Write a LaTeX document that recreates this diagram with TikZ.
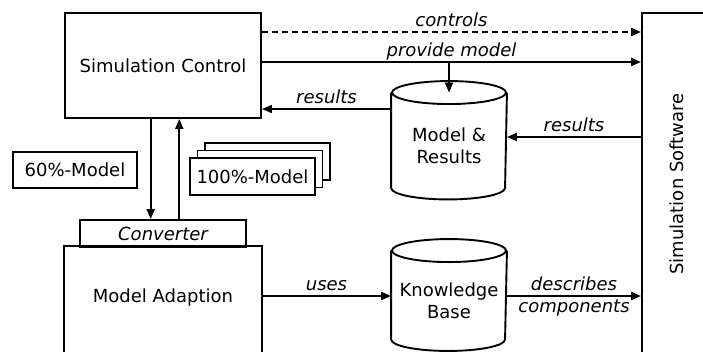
\documentclass[tikz,border=0pt]{standalone}
\usepackage{graphicx}
\usepackage{fontspec}
\setmainfont{DejaVu Sans}
\usetikzlibrary{arrows.meta,calc}
\begin{document}
\begin{tikzpicture}[x=1pt,y=-1pt,line width=1.9pt,
  font=\fontsize{18}{22}\selectfont,
  box/.style={draw,rectangle,inner sep=0pt,align=center},
  body/.style={rectangle,inner sep=0pt,align=center},
  arr/.style={-{Triangle[length=10pt,width=8pt]}},
  dashline/.style={dash pattern=on 6pt off 4pt},
  lab/.style={font=\fontsize{18}{22}\selectfont\itshape,anchor=base,inner sep=0pt}]
\clip (0,0) rectangle (703,351);
\fill[white] (0,0) rectangle (703,351);
% boxes
\node[box,minimum width=196pt,minimum height=105pt] (sc) at (163,65.5) {Simulation Control};
\node[box,minimum width=70pt,minimum height=342pt] (ss) at (677,184) {\rotatebox{90}{Simulation Software}};
\node[box,minimum width=124pt,minimum height=36pt] (m60) at (75,170) {60\%-Model};
\node[box,fill=white,minimum width=125pt,minimum height=37pt] (m100c) at (267.5,161.5) {};
\node[box,fill=white,minimum width=125pt,minimum height=37pt] (m100b) at (260,169) {};
\node[box,fill=white,minimum width=125pt,minimum height=37pt] (m100) at (252.5,176.5) {100\%-Model};
\node[box,minimum width=166pt,minimum height=27pt,font=\fontsize{18}{22}\selectfont\itshape] (conv) at (163,233.5) {Converter};
\node[body,minimum width=196pt,minimum height=102pt] (ma) at (163,298) {Model Adaption};
\draw ([yshift=-30pt]ma.south west) rectangle (ma.north east);
% cylinders
\node[body,minimum width=114pt,minimum height=105pt] (mr) at (449,146) {Model \&\\Results};
\draw (mr.north) ellipse[x radius=57pt,y radius=11.5pt];
\draw (mr.north west) -- ([yshift=11.5pt]mr.south west)
  arc[start angle=180,end angle=360,x radius=57pt,y radius=11.5pt] -- (mr.north east);
\node[body,minimum width=114pt,minimum height=98.5pt] (kb) at (449,300.75) {Knowledge\\Base};
\draw (kb.north) ellipse[x radius=57pt,y radius=11.5pt];
\draw (kb.north west) -- ([yshift=11.5pt]kb.south west)
  arc[start angle=180,end angle=360,x radius=57pt,y radius=11.5pt] -- (kb.north east);
% connectors
\coordinate (pm) at ([yshift=3.5pt]sc.east);
\draw[arr,dashline] ([yshift=33.5pt]sc.east) -- ([yshift=33.5pt]sc.east -| ss.west)
  node[lab,midway,yshift=6pt] {controls};
\draw[arr] (pm) -- (pm -| ss.west) node[lab,midway,yshift=6pt] {provide model};
\draw[arr] (pm -| mr.north) -- (mr.north);
\draw[arr] ([yshift=37pt]mr.west) -- ([yshift=37pt]mr.west -| sc.east)
  node[lab,midway,yshift=6pt] {results};
\draw[arr] ([yshift=9pt]mr.east -| ss.west) -- ([yshift=9pt]mr.east)
  node[lab,midway,yshift=6pt] {results};
\draw[arr] ([xshift=-12.3pt]sc.south) -- ([xshift=-12.3pt]conv.north);
\draw[arr] ([xshift=16.3pt]conv.north) -- ([xshift=16.3pt]sc.south);
\draw[arr] ([yshift=4.75pt]kb.west -| ma.east) -- ([yshift=4.75pt]kb.west)
  node[lab,midway,yshift=6pt] {uses};
\draw[arr] ([yshift=4.75pt]kb.east) -- ([yshift=4.75pt]kb.east -| ss.west)
  node[lab,midway,yshift=6pt] {describes}
  node[lab,midway,yshift=-16pt] {components};
\end{tikzpicture}
\end{document}
